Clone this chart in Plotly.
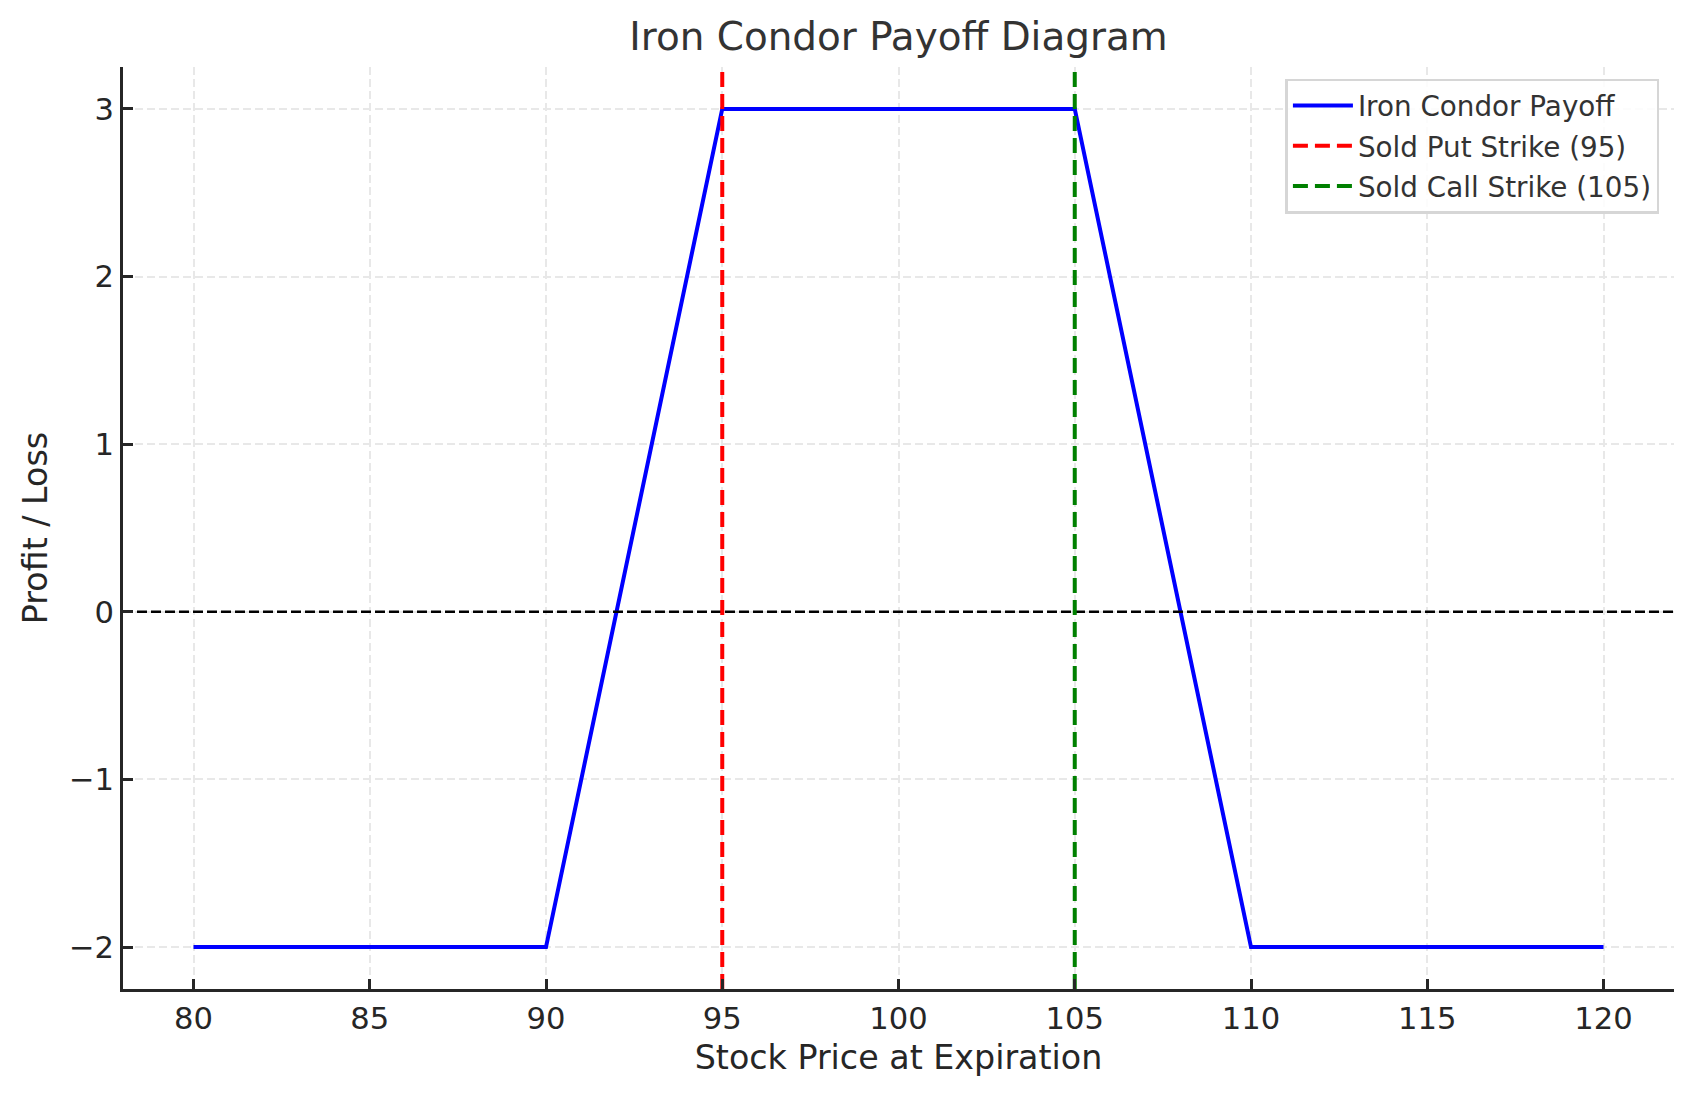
import plotly.graph_objects as go

# ---- data ----
price = [80, 90, 95, 105, 110, 120]
payoff = [-2, -2, 3, 3, -2, -2]
put_strike = 95
call_strike = 105
zero_level = 0
x_range = [78, 122]
y_range = [-2.25, 3.25]
x_ticks = [80, 85, 90, 95, 100, 105, 110, 115, 120]
y_ticks = [-2, -1, 0, 1, 2, 3]

FONT = "DejaVu Sans"
AX = "#262626"

fig = go.Figure()
fig.add_trace(go.Scatter(
    x=price, y=payoff, mode="lines", name="Iron Condor Payoff",
    legendgroup="a",
    line=dict(color="#0000ff", width=4)))
fig.add_trace(go.Scatter(
    x=x_range, y=[zero_level, zero_level], mode="lines", showlegend=False,
    line=dict(color="black", width=2.6, dash="10px,4px")))
fig.add_trace(go.Scatter(
    x=[put_strike, put_strike], y=y_range, mode="lines",
    name=f"Sold Put Strike ({put_strike})", legendgroup="b",
    line=dict(color="#ff0000", width=4, dash="15px,7px")))
fig.add_trace(go.Scatter(
    x=[call_strike, call_strike], y=y_range, mode="lines",
    name=f"Sold Call Strike ({call_strike})", legendgroup="c",
    line=dict(color="#008000", width=4, dash="15px,7px")))

axis_common = dict(
    showline=True, linecolor=AX, linewidth=2.7, mirror=False,
    ticks="inside", ticklen=10, tickwidth=2.7, tickcolor=AX,
    showgrid=True, gridcolor="#e8e8e8", gridwidth=2, griddash="8px,4px",
    zeroline=False, tickfont=dict(family=FONT, size=30.6, color=AX),
)

fig.update_layout(
    width=1693, height=1097,
    margin=dict(l=123, r=19, t=67, b=108),
    paper_bgcolor="white", plot_bgcolor="white",
    font=dict(family=FONT, color=AX),
    title=dict(text="Iron Condor Payoff Diagram", x=0.5, xanchor="center",
               xref="paper",
               y=1 - 36 / 1097, yanchor="middle", yref="container",
               font=dict(family=FONT, size=38.9, color="#333333")),
    xaxis=dict(range=x_range, tickvals=x_ticks,
               title=dict(text="Stock Price at Expiration", standoff=12,
                          font=dict(family=FONT, size=33.3, color="#262626")),
               **axis_common),
    yaxis=dict(range=y_range, tickvals=y_ticks,
               title=dict(text="Profit / Loss", standoff=12,
                          font=dict(family=FONT, size=33.3, color="#262626")),
               **axis_common),
    legend=dict(x=0.9906, y=0.9875, xanchor="right", yanchor="top",
                bgcolor="rgba(255,255,255,0.85)", bordercolor="#d6d6d6",
                borderwidth=2.5, itemwidth=60, tracegroupgap=1,
                font=dict(family=FONT, size=27.8, color="#333333")),
    showlegend=True,
)

fig.write_html("out.html")
